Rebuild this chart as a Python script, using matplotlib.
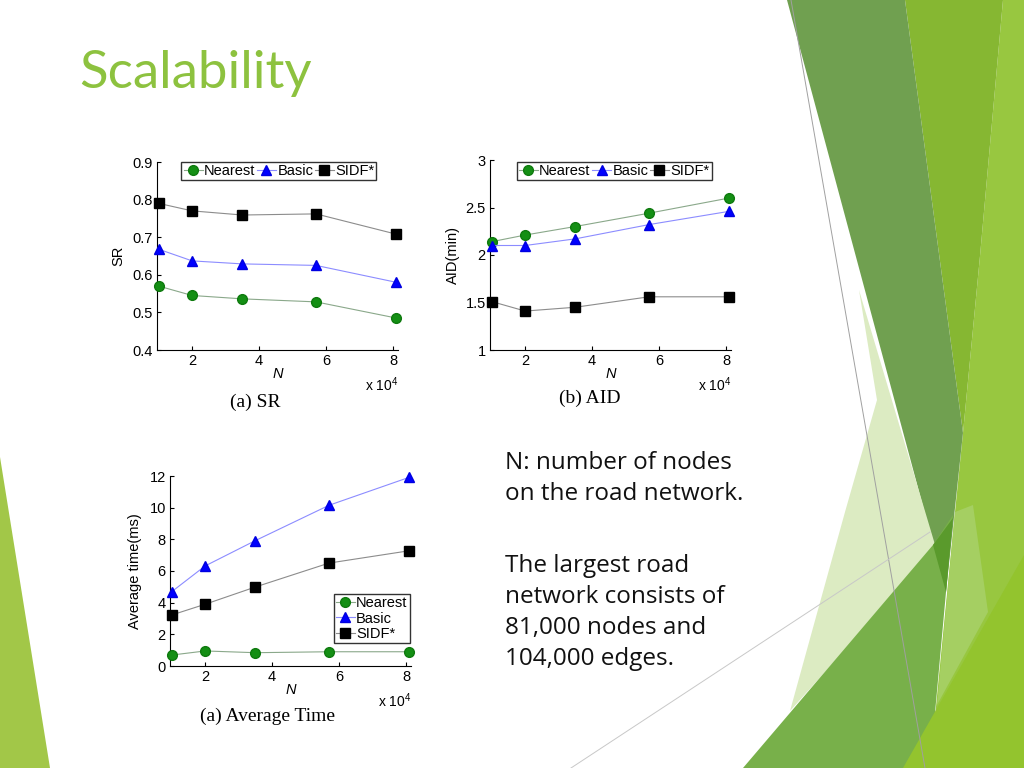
import matplotlib.pyplot as plt
from matplotlib.patches import Polygon

plt.rcParams['font.family'] = ['Liberation Sans', 'DejaVu Sans']
plt.rcParams['mathtext.fontset'] = 'custom'
plt.rcParams['mathtext.rm'] = 'Liberation Sans'

# data
n_nodes = [1.0, 2.0, 3.5, 5.7, 8.1]          # x 10^4
series_names = ['Nearest', 'Basic', 'SIDF*']

sr_nearest = [0.570, 0.545, 0.536, 0.528, 0.485]
sr_basic = [0.668, 0.637, 0.629, 0.625, 0.580]
sr_sidf = [0.790, 0.770, 0.759, 0.762, 0.708]

aid_nearest = [2.14, 2.21, 2.30, 2.44, 2.60]
aid_basic = [2.10, 2.10, 2.17, 2.32, 2.46]
aid_sidf = [1.51, 1.41, 1.45, 1.56, 1.56]

time_nearest = [0.69, 0.95, 0.84, 0.90, 0.90]
time_basic = [4.69, 6.32, 7.92, 10.15, 11.92]
time_sidf = [3.22, 3.90, 4.99, 6.50, 7.28]

STYLES = [
    dict(marker='o', color='#8aa88a', mfc='#148f14', mec='#0e7a0e'),
    dict(marker='^', color='#8c8cff', mfc='#0000ff', mec='#0000e0'),
    dict(marker='s', color='#8c8c8c', mfc='#000000', mec='#000000'),
]

GREEN = '#8dc23f'


def draw_background(fig):
    bg = fig.add_axes([0, 0, 1, 1], zorder=-10)
    bg.set_xlim(0, 1024)
    bg.set_ylim(768, 0)
    bg.axis('off')
    shapes = [
        ([(0, 457), (50, 768), (0, 768)], '#a2c748'),
        ([(1003, 0), (1024, 0), (1024, 768), (930, 768), (955, 512),
          (963, 433), (980, 256)], '#98c740'),
        ([(905, 0), (1003, 0), (980, 256), (963, 433)], '#86b732'),
        ([(787, 0), (905, 0), (963, 433), (946, 592)], '#70a050'),
        ([(859, 290), (936, 548), (790, 711), (845, 512), (877, 400)],
         '#dcebc2'),
        ([(743, 768), (933, 545), (953, 515), (930, 768)], '#78b04a'),
        ([(933, 545), (953, 518), (946, 592)], '#5a9a2c'),
        ([(955, 512), (973, 505), (988, 612), (937, 705)], '#a5cf62'),
        ([(903, 768), (1024, 555), (1024, 768)], '#93c42e'),
    ]
    for pts, col in shapes:
        bg.add_patch(Polygon(pts, closed=True, fc=col, ec='none'))
    bg.plot([791, 925], [0, 768], color='#a0a0a0', lw=0.7)
    bg.plot([571, 930], [768, 532], color='#c8c8c8', lw=0.7)


def draw_chart(ax, values, ylim, yticks, ylabel, ylabel_x):
    for vals, name, st in zip(values, series_names, STYLES):
        ax.plot(n_nodes, vals, label=name, lw=0.8, ms=7, clip_on=False,
                zorder=3, **st)
    ax.set_xlim(0.95, 8.15)
    ax.set_ylim(*ylim)
    ax.set_xticks([2, 4, 6, 8])
    ax.set_yticks(yticks)
    ax.yaxis.set_major_formatter('{x:g}')
    for side in ['top', 'right']:
        ax.spines[side].set_visible(False)
    for side in ['left', 'bottom']:
        ax.spines[side].set_linewidth(0.8)
    ax.tick_params(direction='in', length=3, labelsize=10.5, pad=3)
    ax.set_xlabel('N', style='italic', fontsize=10.5)
    ax.xaxis.set_label_coords(0.5, -0.09)
    ax.set_ylabel(ylabel, fontsize=10.5)
    ax.yaxis.set_label_coords(ylabel_x, 0.5)
    ax.text(1.0, -0.135, r'x 10$^{4}$', transform=ax.transAxes,
            ha='right', va='top', fontsize=10)


def main():
    fig = plt.figure(figsize=(10.24, 7.68), dpi=100)
    draw_background(fig)

    fig.text(79 / 1024, 1 - 88 / 768, 'Scalability', color=GREEN,
             fontsize=38, family='Lato', va='baseline')

    legend_kw = dict(fontsize=10.5, frameon=True, fancybox=False,
                     edgecolor='black', handlelength=1.3, handletextpad=0.1,
                     borderpad=0.15, borderaxespad=0)

    ax1 = fig.add_axes([157 / 1024, 1 - 350 / 768, 241 / 1024, 188 / 768])
    draw_chart(ax1, [sr_nearest, sr_basic, sr_sidf], (0.4, 0.9),
               [0.4, 0.5, 0.6, 0.7, 0.8, 0.9], 'SR', -0.133)
    ax1.legend(loc='upper center', bbox_to_anchor=(0.506, 1.0), ncol=3,
               columnspacing=0.1, **legend_kw)

    ax2 = fig.add_axes([490 / 1024, 1 - 350 / 768, 241 / 1024, 190 / 768])
    draw_chart(ax2, [aid_nearest, aid_basic, aid_sidf], (1, 3),
               [1, 1.5, 2, 2.5, 3], 'AID(min)', -0.124)
    ax2.legend(loc='upper center', bbox_to_anchor=(0.515, 0.99), ncol=3,
               columnspacing=0.1, **legend_kw)

    ax3 = fig.add_axes([170 / 1024, 1 - 666 / 768, 241 / 1024, 190 / 768])
    draw_chart(ax3, [time_nearest, time_basic, time_sidf], (0, 12),
               [0, 2, 4, 6, 8, 10, 12], 'Average time(ms)', -0.116)
    ax3.legend(loc='lower right', bbox_to_anchor=(0.995, 0.12), ncol=1,
               labelspacing=0.1, **legend_kw)

    for x, y, txt in [(255, 402, '(a) SR'), (590, 398, '(b) AID'),
                      (268, 716, '(a) Average Time')]:
        fig.text(x / 1024, 1 - y / 768, txt, family='Liberation Serif',
                 fontsize=14, ha='center', va='center')

    body = dict(family='Open Sans', fontsize=17.5, color='#111111',
                linespacing=1.38, va='baseline', ha='left')
    fig.text(505 / 1024, 1 - 500 / 768,
             'N: number of nodes\non the road network.', **body)
    fig.text(505 / 1024, 1 - 665 / 768,
             'The largest road\nnetwork consists of\n81,000 nodes and\n'
             '104,000 edges.', **body)

    fig.savefig('out.png', dpi=100)


if __name__ == '__main__':
    main()
